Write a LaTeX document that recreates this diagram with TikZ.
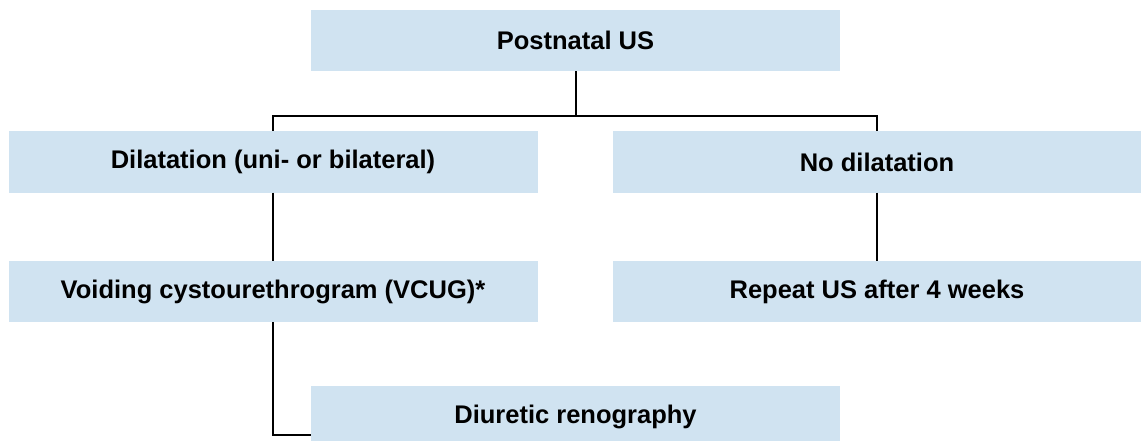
\documentclass[tikz,border=0pt]{standalone}
\usepackage{fontspec}
\setmainfont{Liberation Sans}
\usepackage{xcolor}
\usepackage{tikz}
\usetikzlibrary{shapes.geometric, arrows}
\definecolor{boxblue}{RGB}{208,227,241}
\tikzstyle{stepbox} = [rectangle, 
minimum width=529pt, 
minimum height=61pt, 
text centered, 
draw=none, 
fill=boxblue, 
font=\fontsize{25.5}{30}\selectfont\bfseries]
\tikzstyle{line} = [line width=2pt, draw=black]

\begin{document}
\begin{tikzpicture}[node distance=121.5pt]
\useasboundingbox (0,0) rectangle (1141pt,-441pt);

% Nodes
\node (post) [stepbox] at (575.5pt,-40.5pt) {Postnatal US};
\node (dil) [stepbox, below of=post, xshift=-302.5pt] {Dilatation (uni- or bilateral)};
\node (nodil) [stepbox, right of=dil, xshift=482.5pt] {No dilatation};
\node (vcug) [stepbox, below of=dil, yshift=-8pt] {Voiding cystourethrogram (VCUG)*};
\node (rep) [stepbox, below of=nodil, yshift=-8pt] {Repeat US after 4 weeks};
\node (diur) [stepbox, below of=vcug, xshift=302.5pt, yshift=-3.5pt] {Diuretic renography};

% Lines
\draw [line] (post.south) -- ++(0,-45pt) -| (dil);
\draw [line] (post.south) -- ++(0,-45pt) -| (nodil);
\draw [line] (dil) -- (vcug);
\draw [line] (nodil) -- (rep);
\draw [line] (vcug) |- ([yshift=-18pt]diur.west);

\end{tikzpicture}
\end{document}
